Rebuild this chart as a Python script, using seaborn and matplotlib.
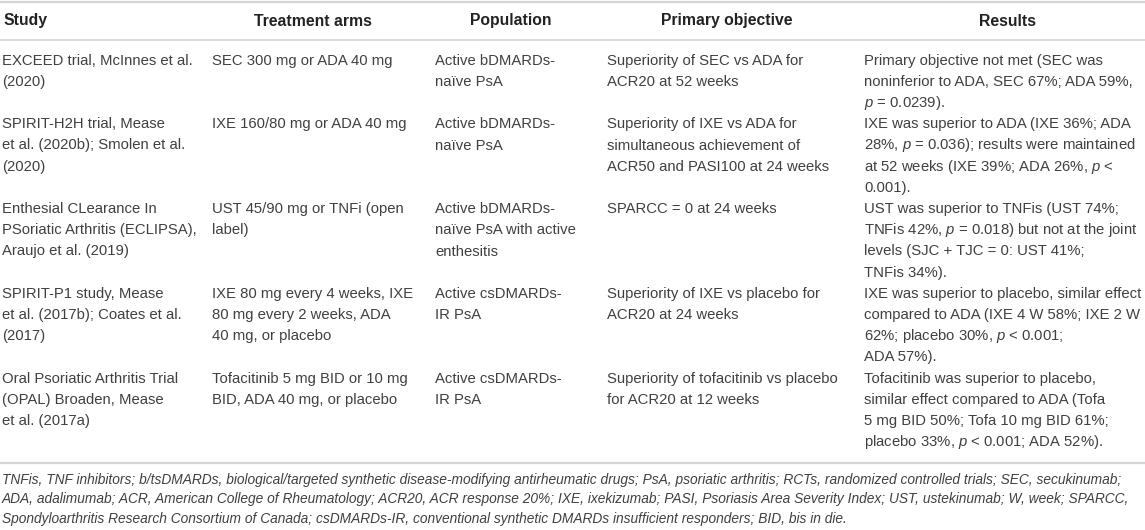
import matplotlib
matplotlib.use("Agg")
import matplotlib.pyplot as plt
import seaborn as sns

# table content, wrapped line by line as in the source
headers = ["Study", "Treatment arms", "Population", "Primary objective", "Results"]

studies = [
    ["EXCEED trial, McInnes et al.", "(2020)"],
    ["SPIRIT-H2H trial, Mease", "et al. (2020b); Smolen et al.", "(2020)"],
    ["Enthesial CLearance In", "PSoriatic Arthritis (ECLIPSA),", "Araujo et al. (2019)"],
    ["SPIRIT-P1 study, Mease", "et al. (2017b); Coates et al.", "(2017)"],
    ["Oral Psoriatic Arthritis Trial", "(OPAL) Broaden, Mease", "et al. (2017a)"],
]
treatments = [
    ["SEC 300 mg or ADA 40 mg"],
    ["IXE 160/80 mg or ADA 40 mg"],
    ["UST 45/90 mg or TNFi (open", "label)"],
    ["IXE 80 mg every 4 weeks, IXE", "80 mg every 2 weeks, ADA", "40 mg, or placebo"],
    ["Tofacitinib 5 mg BID or 10 mg", "BID, ADA 40 mg, or placebo"],
]
populations = [
    ["Active bDMARDs-", "naïve PsA"],
    ["Active bDMARDs-", "naïve PsA"],
    ["Active bDMARDs-", "naïve PsA with active", "enthesitis"],
    ["Active csDMARDs-", "IR PsA"],
    ["Active csDMARDs-", "IR PsA"],
]
objectives = [
    ["Superiority of SEC vs ADA for", "ACR20 at 52 weeks"],
    ["Superiority of IXE vs ADA for", "simultaneous achievement of", "ACR50 and PASI100 at 24 weeks"],
    ["SPARCC = 0 at 24 weeks"],
    ["Superiority of IXE vs placebo for", "ACR20 at 24 weeks"],
    ["Superiority of tofacitinib vs placebo", "for ACR20 at 12 weeks"],
]
results = [
    ["Primary objective not met (SEC was", "noninferior to ADA, SEC 67%; ADA 59%,",
     "$p$ = 0.0239)."],
    ["IXE was superior to ADA (IXE 36%; ADA", "28%, $p$ = 0.036); results were maintained",
     "at 52 weeks (IXE 39%; ADA 26%, $p$ <", "0.001)."],
    ["UST was superior to TNFis (UST 74%;", "TNFis 42%, $p$ = 0.018) but not at the joint",
     "levels (SJC + TJC = 0: UST 41%;", "TNFis 34%)."],
    ["IXE was superior to placebo, similar effect", "compared to ADA (IXE 4 W 58%; IXE 2 W",
     "62%; placebo 30%, $p$ < 0.001;", "ADA 57%)."],
    ["Tofacitinib was superior to placebo,", "similar effect compared to ADA (Tofa",
     "5 mg BID 50%; Tofa 10 mg BID 61%;", "placebo 33%, $p$ < 0.001; ADA 52%)."],
]

footnotes = [
    "TNFis, TNF inhibitors; b/tsDMARDs, biological/targeted synthetic disease-modifying antirheumatic drugs; "
    "PsA, psoriatic arthritis; RCTs, randomized controlled trials; SEC, secukinumab;",
    "ADA, adalimumab; ACR, American College of Rheumatology; ACR20, ACR response 20%; IXE, ixekizumab; "
    "PASI, Psoriasis Area Severity Index; UST, ustekinumab; W, week; SPARCC,",
    "Spondyloarthritis Research Consortium of Canada; csDMARDs-IR, conventional synthetic DMARDs "
    "insufficient responders; BID, bis in die.",
]

sns.set_theme(style="white")
plt.rcParams["font.family"] = ["Liberation Sans", "DejaVu Sans"]
plt.rcParams["mathtext.fontset"] = "custom"
plt.rcParams["mathtext.rm"] = "Liberation Sans"
plt.rcParams["mathtext.it"] = "Liberation Sans:italic"

W, H = 1145, 530
fig = plt.figure(figsize=(W / 100, H / 100), dpi=100)
ax = fig.add_axes([0, 0, 1, 1])
ax.set_xlim(0, W)
ax.set_ylim(H, 0)
ax.axis("off")

text_col = "#404040"
rule_col = "#d4d4d4"
body_size = 10.7
head_size = 11.3

col_x = [2, 212, 435, 607, 864]
head_x = [3, 313, 511, 727, 1007]
head_ha = ["left", "center", "center", "center", "center"]

# rules
ax.axhline(1.5, color=rule_col, lw=1.6)
ax.axhline(40, color=rule_col, lw=1.2)
ax.axhline(463, color=rule_col, lw=1.6)

for hx, ha, h in zip(head_x, head_ha, headers):
    ax.text(hx, 21, h, ha=ha, va="center", fontsize=head_size,
            fontweight="bold", color="#222222")

columns = [studies, treatments, populations, objectives, results]
y0, dy = 60.7, 21.2
line = 0
for r in range(len(studies)):
    n = max(len(c[r]) for c in columns)
    for cx, col in zip(col_x, columns):
        for k, s in enumerate(col[r]):
            ax.text(cx, y0 + (line + k) * dy, s, ha="left", va="center",
                    fontsize=body_size, color=text_col)
    line += n

for k, s in enumerate(footnotes):
    ax.text(2, 480 + k * 19.5, s, ha="left", va="center", fontsize=9.95,
            style="italic", color=text_col)

fig.savefig("out.png", dpi=100)
